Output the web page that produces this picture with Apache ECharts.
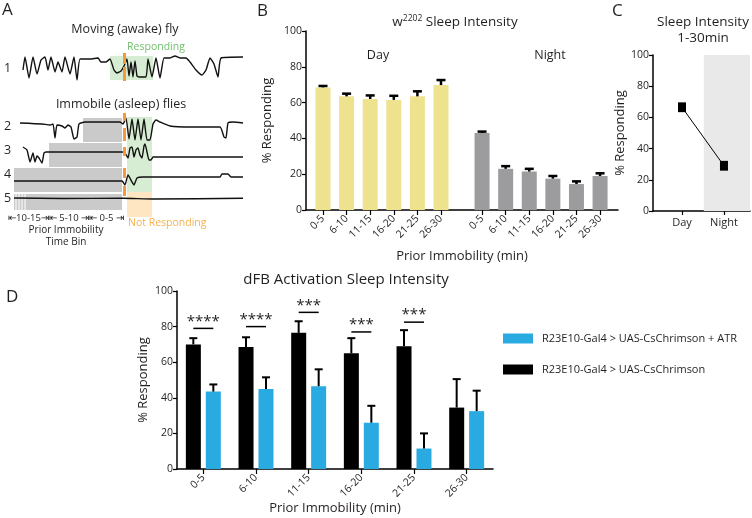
<!DOCTYPE html>
<html><head><meta charset="utf-8">
<script src="https://cdn.jsdelivr.net/npm/echarts@6/dist/echarts.min.js"></script>
<style>html,body{margin:0;padding:0;background:#fff}#c{width:752px;height:518px}</style>
</head><body><div id="c"></div>
<script>
// ================= DATA =================
// Panel A: schematic activity traces, [time, downward deflection]
const trace1 = [[-100,13],[-98,0],[-94,21],[-90,0],[-86,17],[-82,3],[-78,0],[-75,13],[-72,0],[-68,15],[-65,5],[-61,15],[-58,0],[-53,17],[-49,0],[-46,23],[-43,2],[-33,2],[-25,1],[-22,5],[-17,5],[-13,2],[-9,13],[-6,16],[-2,14],[1,9],[4,2],[6,19],[8,5],[10,20],[12,4],[14,19],[16,20],[23,20],[25,2],[29,20],[33,1],[37,21],[41,1],[47,1],[52,-1],[57,1],[63,1],[67,5],[73,13],[79,18],[83,13],[87,1],[91,7],[95,20],[98,1],[120,0]];
const trace2 = [[-103,1],[-81,2],[-73,3],[-70,2],[-68,16],[-66,3],[-61,4],[-58,6],[-55,3],[-52,5],[-49,17],[-46,15],[-44,2],[-38,0],[-3,0],[0,2],[3,-4],[6,17],[9,-3],[12,18],[15,-3],[18,18],[21,-3],[24,18],[27,18],[30,2],[33,-2],[37,0],[47,4],[67,5],[97,5],[101,15],[103,16],[105,1],[110,0],[120,1]];
const trace3 = [[-100,-5],[-96,-2],[-93,10],[-90,1],[-88,10],[-86,4],[-84,6],[-81,11],[-79,1],[-77,0],[-1,0],[2,1],[5,6],[7,-4],[9,-5],[11,5],[13,-2],[15,-4],[17,3],[19,6],[21,-6],[22,-8],[24,0],[26,8],[28,8],[30,5],[37,5],[120,5]];
const trace4 = [[-109,0],[-1,0],[0,1],[2,4],[5,-6],[9,1],[11,4],[14,-3],[20,-4],[29,-4],[97,-4],[99,-7],[105,-7],[108,-4],[120,-4]];
const trace5 = [[-109,0],[-60,0.5],[0,0.3],[30,1],[120,0.3]];
const aTraces = [trace1, trace2, trace3, trace4, trace5];
const aRowLabels = ['1','2','3','4','5'];
// shaded bins: [tStart, tEnd, laneTop, laneBottom, kind]
const aBoxes = [
  [-13,30,56,80,'resp'],
  [-40,-1,118,142,'imm'],
  [-74,-1,143,167,'imm'],
  [-109,-1,168,192,'imm'],
  [-109,-1,194,210,'imm'],
  [4,29,117,192,'resp'],
  [4,29,192,217,'noresp']
];
const aStripes = [-107,-104,-101,-98];
const aStimulus = [[53,64],[67,81],[113,121],[128,141],[147,156],[168,178],[186,196]];

// Panel B
const bCategories = ['0-5','6-10','11-15','16-20','21-25','26-30'];
const bDayValues   = [68.5, 63.5, 62.0, 61.5, 63.5, 69.8];
const bDayErrors   = [0.8, 1.5, 2.0, 2.3, 2.8, 2.8];
const bNightValues = [43.0, 23.0, 21.5, 17.5, 14.5, 19.0];
const bNightErrors = [0.8, 1.5, 1.5, 1.5, 1.5, 1.5];
const yTicks = [0, 20, 40, 60, 80, 100];

// Panel C
const cCategories = ['Day', 'Night'];
const cValues = [66.5, 29.0];
const cErrors = [2.5, 2.5];

// Panel D
const dCategories = ['0-5','6-10','11-15','16-20','21-25','26-30'];
const dSeriesNames = ['R23E10-Gal4 > UAS-CsChrimson + ATR', 'R23E10-Gal4 > UAS-CsChrimson'];
const dAtrValues  = [43.5, 45.0, 46.5, 26.0, 11.5, 32.5];
const dAtrErrors  = [4.0, 6.5, 9.5, 9.5, 8.5, 11.5];
const dCtrlValues = [70.0, 68.5, 76.5, 65.0, 69.0, 34.5];
const dCtrlErrors = [3.5, 5.5, 6.5, 8.5, 9.0, 16.0];
const dSigLabels  = ['****','****','***','***','***',''];
const dSigLevels  = [79, 80, 88, 77, 82.5, null];

// ================= CHART =================
const FONT = 'Open Sans';
const TXT = '#231f20';
const YELLOW = '#efe28f', GREY = '#9c9c9e', BLUE = '#29abe2', BLACK = '#000000';
const chart = echarts.init(document.getElementById('c'), null, {width: 752, height: 518});

const bNightShift = 6.74;
const bDayPos = bCategories.map((c, i) => i);
const bNightPos = bCategories.map((c, i) => i + bNightShift);
const bAllPos = bDayPos.concat(bNightPos);
function bLabel(v) {
  const i = v < bNightShift - 0.5 ? Math.round(v) : Math.round(v - bNightShift);
  return bCategories[i] || '';
}

function valueYAxis(grid, name, gap) {
  return {
    type: 'value', gridIndex: grid, min: 0, max: 100, interval: 20,
    axisLine: {show: true, onZero: false, lineStyle: {color: BLACK, width: 1.5}},
    axisTick: {show: true, length: 4, lineStyle: {color: BLACK, width: 1.2}},
    axisLabel: {fontFamily: FONT, fontSize: 10.5, color: TXT, margin: 4},
    splitLine: {show: false},
    name: name, nameLocation: 'middle', nameGap: gap,
    nameTextStyle: {fontFamily: FONT, fontSize: 13, color: TXT}
  };
}

function upperErr(color, capHalf, lw, offset) {
  return function (params, api) {
    const x = api.value(0), v = api.value(1), e = api.value(2);
    const base = api.coord([x, v]);
    const top = api.coord([x, v + e]);
    const cx = base[0] + offset;
    return {type: 'group', children: [
      {type: 'line', shape: {x1: cx, y1: base[1], x2: cx, y2: top[1]}, style: {stroke: color, lineWidth: lw}},
      {type: 'line', shape: {x1: cx - capHalf, y1: top[1], x2: cx + capHalf, y2: top[1]}, style: {stroke: color, lineWidth: lw}}
    ]};
  };
}

const rowRefs = [57, 122, 152, 181, 198];
const boxColors = {resp: '#d7edd3', imm: '#cacaca', noresp: '#fde6c1'};

const series = [];
// ----- Panel A
series.push({
  type: 'custom', xAxisIndex: 0, yAxisIndex: 0, z: 1, silent: true,
  data: aBoxes,
  renderItem: (p, api) => {
    const b = aBoxes[p.dataIndex];
    const p0 = api.coord([b[0], b[2]]), p1 = api.coord([b[1], b[3]]);
    return {type: 'rect', shape: {x: p0[0], y: p0[1], width: p1[0] - p0[0], height: p1[1] - p0[1]}, style: {fill: boxColors[b[4]]}};
  }
});
series.push({
  type: 'custom', xAxisIndex: 0, yAxisIndex: 0, z: 2, silent: true,
  data: aStripes,
  renderItem: (p, api) => {
    const t = aStripes[p.dataIndex];
    const p0 = api.coord([t, 194]), p1 = api.coord([t, 210]);
    return {type: 'line', shape: {x1: p0[0], y1: p0[1], x2: p1[0], y2: p1[1]}, style: {stroke: '#ffffff', lineWidth: 1}};
  }
});
aTraces.forEach((tr, k) => {
  series.push({
    type: 'line', xAxisIndex: 0, yAxisIndex: 0, z: 5, silent: true,
    symbol: 'none', smooth: 0.15, lineStyle: {color: '#111', width: 1.4},
    data: tr.map(d => [d[0], rowRefs[k] + d[1]])
  });
});
series.push({
  type: 'custom', xAxisIndex: 0, yAxisIndex: 0, z: 6, silent: true,
  data: aStimulus,
  renderItem: (p, api) => {
    const s = aStimulus[p.dataIndex];
    const p0 = api.coord([0, s[0]]), p1 = api.coord([3, s[1]]);
    return {type: 'rect', shape: {x: p0[0], y: p0[1], width: p1[0] - p0[0], height: p1[1] - p0[1]}, style: {fill: '#f39a3c'}};
  }
});

// ----- Panel B
series.push({type: 'bar', xAxisIndex: 1, yAxisIndex: 1, barWidth: 15, barGap: '-100%', itemStyle: {color: YELLOW}, data: bDayValues.map((v, i) => [bDayPos[i], v])});
series.push({type: 'bar', xAxisIndex: 1, yAxisIndex: 1, barWidth: 15, barGap: '-100%', itemStyle: {color: GREY}, data: bNightValues.map((v, i) => [bNightPos[i], v])});
series.push({type: 'custom', xAxisIndex: 1, yAxisIndex: 1, z: 5, renderItem: upperErr(BLACK, 4.5, 2.5, 0),
  data: bDayValues.map((v, i) => [bDayPos[i], v, bDayErrors[i]]).concat(bNightValues.map((v, i) => [bNightPos[i], v, bNightErrors[i]]))});

// ----- Panel C
series.push({
  type: 'line', xAxisIndex: 2, yAxisIndex: 2, z: 4,
  symbol: 'rect', symbolSize: 8, itemStyle: {color: BLACK}, lineStyle: {color: BLACK, width: 1},
  data: cValues.map((v, i) => [i, v]),
  markArea: {silent: true, itemStyle: {color: '#e9e9e9'}, data: [[{xAxis: 0.52}, {xAxis: 1.62}]]}
});
series.push({
  type: 'custom', xAxisIndex: 2, yAxisIndex: 2, z: 5,
  data: cValues.map((v, i) => [i, v, cErrors[i]]),
  renderItem: (p, api) => {
    const x = api.value(0), v = api.value(1), e = api.value(2);
    const a = api.coord([x, v + e]), b = api.coord([x, v - e]);
    return {type: 'group', children: [
      {type: 'line', shape: {x1: a[0], y1: a[1], x2: b[0], y2: b[1]}, style: {stroke: BLACK, lineWidth: 2}},
      {type: 'line', shape: {x1: a[0] - 4, y1: a[1], x2: a[0] + 4, y2: a[1]}, style: {stroke: BLACK, lineWidth: 2}},
      {type: 'line', shape: {x1: b[0] - 4, y1: b[1], x2: b[0] + 4, y2: b[1]}, style: {stroke: BLACK, lineWidth: 2}}
    ]};
  }
});

// ----- Panel D
series.push({name: dSeriesNames[1], type: 'bar', xAxisIndex: 3, yAxisIndex: 3, barWidth: 15, barGap: '33%', itemStyle: {color: BLACK}, data: dCtrlValues});
series.push({name: dSeriesNames[0], type: 'bar', xAxisIndex: 3, yAxisIndex: 3, barWidth: 15, barGap: '33%', itemStyle: {color: BLUE}, data: dAtrValues});
series.push({type: 'custom', xAxisIndex: 3, yAxisIndex: 3, z: 5, renderItem: upperErr(BLACK, 4, 2, -10),
  data: dCtrlValues.map((v, i) => [i, v, dCtrlErrors[i]])});
series.push({type: 'custom', xAxisIndex: 3, yAxisIndex: 3, z: 5, renderItem: upperErr(BLACK, 4, 2, 10),
  data: dAtrValues.map((v, i) => [i, v, dAtrErrors[i]])});
series.push({
  type: 'custom', xAxisIndex: 3, yAxisIndex: 3, z: 6,
  data: dSigLevels.map((v, i) => [i, v == null ? 0 : v, v == null ? 0 : 1]),
  renderItem: (p, api) => {
    if (!api.value(2)) return null;
    const c = api.coord([api.value(0), api.value(1)]);
    return {type: 'group', children: [
      {type: 'line', shape: {x1: c[0] - 10, y1: c[1], x2: c[0] + 10, y2: c[1]}, style: {stroke: BLACK, lineWidth: 1.5}},
      {type: 'text', x: c[0], y: c[1] - 7, style: {text: dSigLabels[p.dataIndex], align: 'center', verticalAlign: 'middle', fontFamily: FONT, fontSize: 15, fill: TXT}}
    ]};
  }
});

function txt(text, x, y, size, color, align, extra) {
  return Object.assign({type: 'text', x: x, y: y, silent: true,
    style: {text: text, fontFamily: FONT, fontSize: size, fill: color || TXT, align: align || 'center', verticalAlign: 'middle'}}, extra || {});
}

const graphics = [
  txt('A', 2, 10, 17, TXT, 'left'),
  txt('B', 257, 11, 17, TXT, 'left'),
  txt('C', 612, 11, 17, TXT, 'left'),
  txt('D', 6, 297, 17, TXT, 'left'),
  txt('Moving (awake) fly', 125, 29, 12.5),
  txt('Responding', 156, 47, 10.5, '#72c06c'),
  txt('Immobile (asleep) flies', 121, 104, 12.5),
  txt('\u21E410-15\u21E5\u21E4 5-10 \u21E5\u21E4 0-5 \u21E5', 66, 218, 9.5),
  txt('Prior Immobility', 66, 230, 10),
  txt('Time Bin', 66, 242, 10),
  txt('Not Responding', 128, 223, 10.5, '#f5b24f', 'left'),
  txt('Day', 378, 55, 12.5),
  txt('Night', 550, 55, 12.5),
  txt('Sleep Intensity', 703, 22, 13.5),
  txt('1-30min', 703, 38, 13.5),
  txt('dFB Activation Sleep Intensity', 346, 280, 15),
  {type: 'text', x: 455, y: 22, silent: true, style: {
    text: '{w|w}{s|2202}{w| Sleep Intensity}', align: 'center', verticalAlign: 'middle',
    rich: {w: {fontFamily: FONT, fontSize: 13.5, fill: TXT, verticalAlign: 'bottom'},
           s: {fontFamily: FONT, fontSize: 8.5, fill: TXT, verticalAlign: 'top', padding: [0, 0, 6, 0]}}
  }}
];
aRowLabels.forEach((l, k) => graphics.push(txt(l, 4, [68, 126, 150, 174, 198][k], 12.5, TXT, 'left')));

const option = {
  animation: false,
  textStyle: {fontFamily: FONT},
  grid: [
    {left: 14, top: 0, width: 229, height: 218},
    {left: 306, top: 31, width: 312, height: 179},
    {left: 653, top: 55, width: 97, height: 156},
    {left: 177, top: 291, width: 316, height: 178}
  ],
  xAxis: [
    {type: 'value', gridIndex: 0, min: -109, max: 120, show: false},
    {type: 'value', gridIndex: 1, min: -0.72, max: 12.5,
      axisLine: {show: true, onZero: false, lineStyle: {color: BLACK, width: 1.5}},
      axisTick: {show: true, length: 5, customValues: bAllPos, lineStyle: {color: BLACK, width: 1.2}},
      axisLabel: {customValues: bAllPos, formatter: bLabel, rotate: 45, fontFamily: FONT, fontSize: 10.5, color: TXT, margin: 7},
      splitLine: {show: false},
      name: 'Prior Immobility (min)', nameLocation: 'middle', nameGap: 40,
      nameTextStyle: {fontFamily: FONT, fontSize: 13, color: TXT}},
    {type: 'value', gridIndex: 2, min: -0.69, max: 1.62,
      axisLine: {show: true, onZero: false, lineStyle: {color: BLACK, width: 1.5}},
      axisTick: {show: true, length: 4, customValues: [0, 1], lineStyle: {color: BLACK, width: 1.2}},
      axisLabel: {customValues: [0, 1], formatter: v => cCategories[Math.round(v)], fontFamily: FONT, fontSize: 11, color: TXT, margin: 6},
      splitLine: {show: false}},
    {type: 'category', gridIndex: 3, data: dCategories,
      axisLine: {show: true, lineStyle: {color: BLACK, width: 1.5}},
      axisTick: {show: true, alignWithLabel: true, length: 5, lineStyle: {color: BLACK, width: 1.2}},
      axisLabel: {rotate: 45, fontFamily: FONT, fontSize: 10.5, color: TXT, margin: 7},
      name: 'Prior Immobility (min)', nameLocation: 'middle', nameGap: 33,
      nameTextStyle: {fontFamily: FONT, fontSize: 13, color: TXT}}
  ],
  yAxis: [
    {type: 'value', gridIndex: 0, min: 0, max: 218, inverse: true, show: false},
    valueYAxis(1, '% Responding', 32),
    valueYAxis(2, '% Responding', 20),
    valueYAxis(3, '% Responding', 27)
  ],
  legend: {
    data: [dSeriesNames[0], dSeriesNames[1]], orient: 'vertical', left: 498, top: 328,
    itemWidth: 30, itemHeight: 10, itemGap: 20, icon: 'rect', selectedMode: false,
    textStyle: {fontFamily: FONT, fontSize: 11, color: TXT, padding: [0, 0, 0, 4]}
  },
  graphic: graphics,
  series: series
};
chart.setOption(option);
</script>
</body></html>
